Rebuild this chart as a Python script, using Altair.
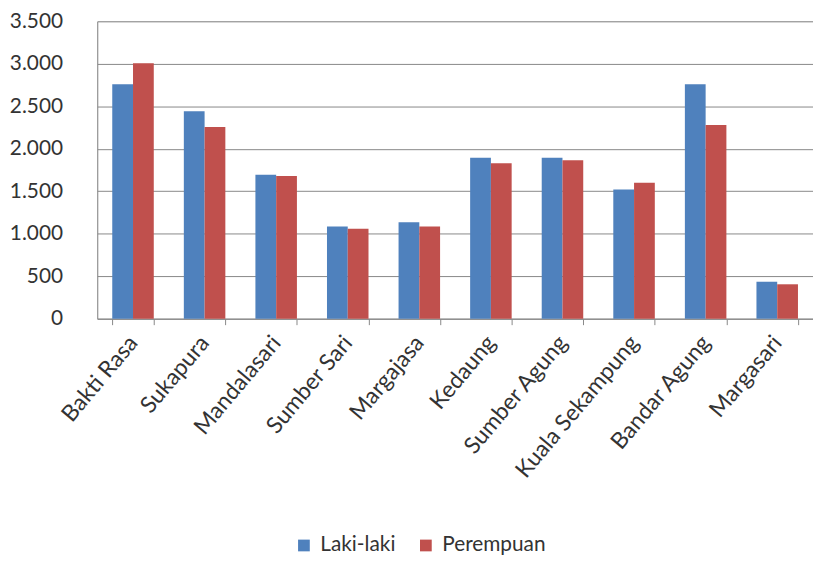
import altair as alt
import pandas as pd

desa = ["Bakti Rasa", "Sukapura", "Mandalasari", "Sumber Sari", "Margajasa",
        "Kedaung", "Sumber Agung", "Kuala Sekampung", "Bandar Agung", "Margasari"]
laki = [2760, 2440, 1695, 1085, 1135, 1895, 1895, 1520, 2760, 435]
perempuan = [3005, 2255, 1680, 1060, 1085, 1830, 1865, 1600, 2280, 405]
series = ["Laki-laki", "Perempuan"]
colors = ["#4F81BD", "#C0504D"]
y_ticks = [0, 500, 1000, 1500, 2000, 2500, 3000, 3500]

rows = []
for i, d in enumerate(desa):
    rows.append({"desa": d, "jenis": series[0], "nilai": laki[i]})
    rows.append({"desa": d, "jenis": series[1], "nilai": perempuan[i]})
df = pd.DataFrame(rows)

FONT = "Lato"

chart = alt.Chart(df).mark_bar().encode(
    x=alt.X("desa:N", sort=desa, title=None,
            scale=alt.Scale(paddingInner=0.42, paddingOuter=0.21),
            axis=alt.Axis(labelAngle=310, labelAlign="right", labelBaseline="middle",
                          labelFontSize=23, labelFont=FONT, labelColor="#333333",
                          labelPadding=14, labelLimit=400, tickBand="extent", ticks=True,
                          tickSize=6, tickColor="#888888", domainColor="#888888", grid=False)),
    xOffset=alt.XOffset("jenis:N", sort=series, scale=alt.Scale(paddingInner=0, paddingOuter=0)),
    y=alt.Y("nilai:Q", title=None,
            scale=alt.Scale(domain=[0, 3500], nice=False),
            axis=alt.Axis(values=y_ticks, ticks=False, labelPadding=35,
                          labelFontSize=21, labelFont=FONT, labelColor="#333333",
                          labelExpr="replace(format(datum.value, ','), ',', '.')",
                          gridColor="#888888", gridWidth=1, domainColor="#888888")),
    color=alt.Color("jenis:N", sort=series,
                    scale=alt.Scale(domain=series, range=colors),
                    legend=alt.Legend(title=None, orient="none", direction="horizontal",
                                      legendX=198, legendY=518, symbolType="square",
                                      symbolSize=140, symbolStrokeWidth=0,
                                      labelFontSize=21, labelFont=FONT, labelColor="#333333",
                                      labelOffset=6, columnPadding=20)),
).properties(
    width=722, height=300,
    autosize=alt.AutoSizeParams(type="none"),
    padding={"left": 90, "top": 11, "right": 0, "bottom": 242},
).configure_view(stroke=None).configure(background="white")

chart.save("out.html", embed_options={"renderer": "svg", "actions": False})
